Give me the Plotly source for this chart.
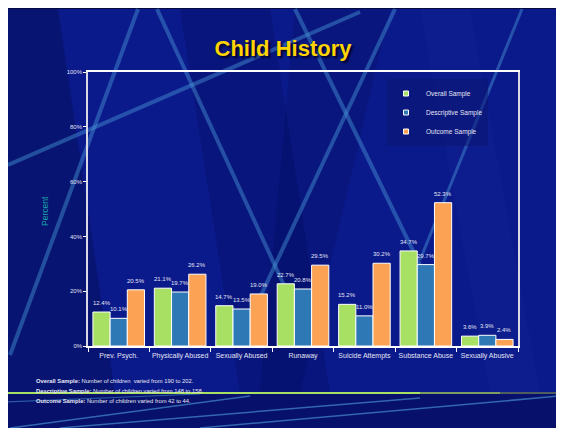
import plotly.graph_objects as go

# ---------------- data ----------------
categories = ["Prev. Psych.", "Physically Abused", "Sexually Abused", "Runaway",
              "Suicide Attempts", "Substance Abuse", "Sexually Abusive"]
overall = [12.4, 21.1, 14.7, 22.7, 15.2, 34.7, 3.6]
descriptive = [10.1, 19.7, 13.5, 20.8, 11.0, 29.7, 3.9]
outcome = [20.5, 26.2, 19.0, 29.5, 30.2, 52.3, 2.4]
series_names = ["Overall Sample", "Descriptive Sample", "Outcome Sample"]
y_ticks = [0, 20, 40, 60, 80, 100]
y_ticktext = [f"{v}%" for v in y_ticks]
footnotes = [
    ("Overall Sample:", "Number of children  varied from 190 to 202."),
    ("Descriptive Sample:", "Number of children varied from 148 to 158."),
    ("Outcome Sample:", "Number of children varied from 42 to 44."),
]

# ---------------- layout geometry ----------------
W, H = 564, 428
OFF = 8                      # page offset of the figure div
ML, MT = 80, 64
PW, PH = 430, 274
MR, MB = W - ML - PW, H - MT - PH


def px(x):  # screen pixel -> paper x
    return (x - OFF - ML) / PW


def py(y):  # screen pixel -> paper y
    return (OFF + MT + PH - y) / PH


colors = ["#A8E063", "#2F78B6", "#FBA254"]
series = [overall, descriptive, outcome]

fig = go.Figure()
for name, vals, col in zip(series_names, series, colors):
    fig.add_trace(go.Bar(
        x=categories, y=vals, name=name, showlegend=False,
        marker=dict(color=col, line=dict(color="white", width=1)),
        hoverinfo="x+y",
    ))
# legend keys (small squares, as in the original)
for name, col in zip(series_names, colors):
    fig.add_trace(go.Scatter(
        x=[None], y=[None], mode="markers", name=name,
        marker=dict(symbol="square", size=5, color=col,
                    line=dict(color="white", width=1)),
    ))

BARGAP = 0.16
cat_w = PW / len(categories)
bar_w = cat_w * (1 - BARGAP) / 3
annotations = []
for i, vals in enumerate(series):
    for c, v in zip(categories, vals):
        annotations.append(dict(
            x=c, y=v, xref="x", yref="y", text=f"{v:.1f}%", showarrow=False,
            xshift=(i - 1) * bar_w, yshift=9, yanchor="middle",
            font=dict(family="Arial, Liberation Sans", size=6, color="#E2E4F4"),
        ))

annotations.append(dict(
    x=px(45), y=py(211), xref="paper", yref="paper", text="Percent",
    xanchor="center", yanchor="middle",
    textangle=-90, showarrow=False,
    font=dict(family="Arial, Liberation Sans", size=8.5, color="#1AA3A8"),
))
for k, (b, t) in enumerate(footnotes):
    annotations.append(dict(
        x=px(34), y=py(381 + 10 * k), xref="paper", yref="paper",
        xanchor="left", yanchor="middle", showarrow=False,
        text=f"<b>{b}</b> {t}",
        font=dict(family="Arial, Liberation Sans", size=5.8, color="#E8E8F4"),
    ))

# ---------------- decorative background ----------------
shapes = []
shapes.append(dict(type="rect", xref="paper", yref="paper", layer="below",
                   x0=px(0), x1=px(W + 20), y0=py(0), y1=py(H + 20),
                   fillcolor="#0B1A8A", line=dict(width=0)))
shapes.append(dict(type="rect", xref="paper", yref="paper", layer="below",
                   x0=px(0), x1=px(W + 20), y0=py(0), y1=py(9),
                   fillcolor="#050A40", line=dict(width=0)))


def poly(pts, color):
    d = "M " + " L ".join(f"{px(a)},{py(b)}" for a, b in pts) + " Z"
    shapes.append(dict(type="path", path=d, xref="paper", yref="paper",
                       layer="below", fillcolor=color, line=dict(width=0)))


poly([(0, 9), (58, 9), (115, 393), (0, 393)], "rgba(0,5,60,0.3)")
poly([(180, 9), (270, 9), (330, 393), (240, 393)], "rgba(0,5,70,0.2)")
poly([(420, 9), (470, 9), (540, 393), (490, 393)], "rgba(20,40,150,0.25)")
poly([(295, 9), (390, 9), (300, 393), (260, 393)], "rgba(0,5,70,0.18)")

line_col = "rgba(70,150,215,0.45)"


def seg(x0, y0, x1, y1, w=4, col=line_col):
    shapes.append(dict(type="line", xref="paper", yref="paper", layer="below",
                       x0=px(x0), y0=py(y0), x1=px(x1), y1=py(y1),
                       line=dict(color=col, width=w)))


seg(138, 9, 10, 355)
seg(157, 9, 300, 320)
seg(8, 165, 360, 12)
seg(395, 9, 240, 340)
seg(295, 9, 420, 265)
seg(522, 9, 420, 260, w=3)

# bottom strip
shapes.append(dict(type="rect", xref="paper", yref="paper", layer="below",
                   x0=px(0), x1=px(W + 20), y0=py(393), y1=py(H + 20),
                   fillcolor="#07106A", line=dict(width=0)))
seg(10, 428, 250, 396, w=1.5, col="rgba(80,160,220,0.6)")
seg(60, 428, 420, 398, w=1.5, col="rgba(80,160,220,0.6)")
seg(200, 428, 560, 396, w=1.5, col="rgba(80,160,220,0.6)")
seg(6, 402, 200, 394, w=1.2, col="rgba(80,160,220,0.5)")
seg(0, 393, 420, 393, w=2, col="#A8E063")
seg(420, 393, 500, 393, w=2, col="#7C9E62")
seg(500, 393, W + 20, 393, w=2, col="#4E5E60")

fig.update_layout(
    width=W, height=H,
    margin=dict(l=ML, r=MR, t=MT, b=MB, pad=0, autoexpand=False),
    paper_bgcolor="white", plot_bgcolor="rgba(0,0,0,0)",
    barmode="group", bargap=BARGAP, bargroupgap=0,
    title=dict(text="<b>Child History</b>", x=px(283), xref="paper", xanchor="center",
               y=1 - (48 - OFF) / H, yref="container", yanchor="middle",
               font=dict(family="Arial, Liberation Sans", size=22, color="#FFD400",
                         shadow="2px 2px 2px #00002a")),
    font=dict(family="Arial, Liberation Sans", color="#E0E0F0"),
    xaxis=dict(showline=True, linecolor="white", linewidth=1.5, mirror=True,
               ticks="outside", tickson="boundaries", ticklen=4, tickcolor="white",
               tickangle=0, ticklabelstandoff=2,
               tickfont=dict(size=7, color="#E4E4F4"), showgrid=False,
               fixedrange=True),
    yaxis=dict(range=[0, 100], tickmode="array", tickvals=y_ticks, ticktext=y_ticktext,
               showline=True, linecolor="#D8D8E8", linewidth=1.5, mirror=True,
               ticks="outside", ticklen=3, tickcolor="white",
               tickfont=dict(size=6, color="#E0E0F0"), showgrid=False,
               zeroline=False, fixedrange=True),
    legend=dict(x=px(386), y=py(79), xanchor="left", yanchor="top",
                bgcolor="rgba(10,20,110,0.5)", borderwidth=0,
                font=dict(size=6.5, color="#E4E4F4"),
                itemwidth=30, tracegroupgap=0),
    annotations=annotations,
    shapes=shapes,
    showlegend=True,
)

fig.write_html("out.html")
